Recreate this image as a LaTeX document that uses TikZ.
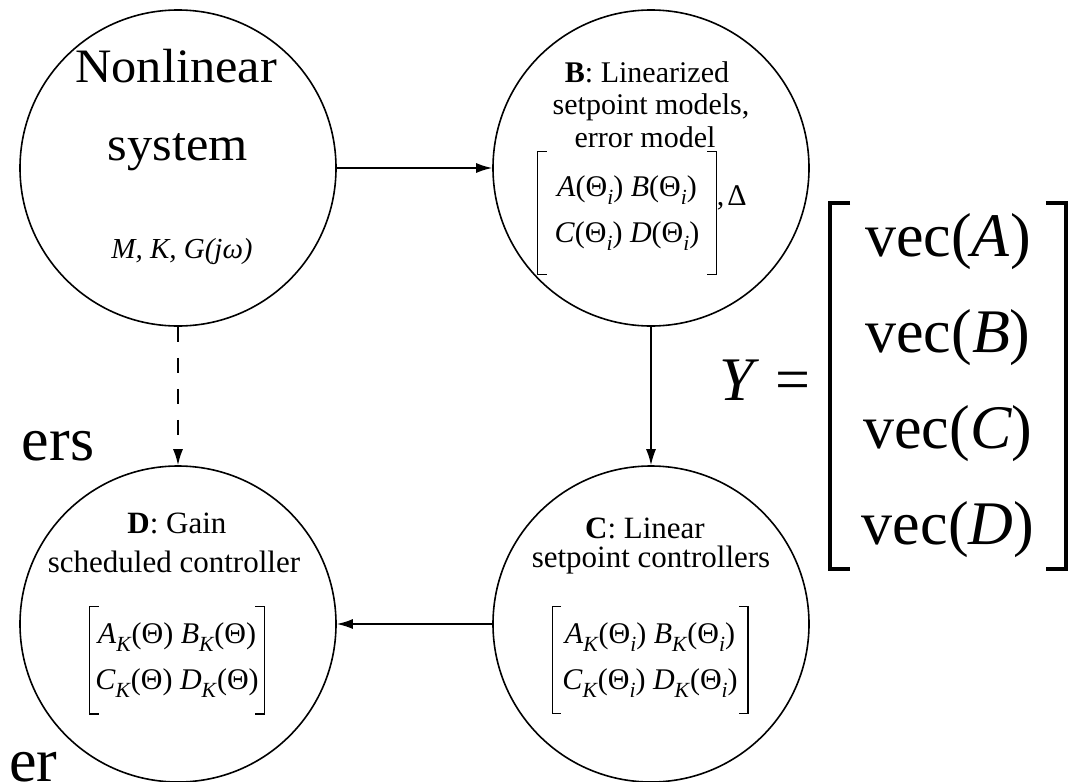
\documentclass[tikz,border=0pt]{standalone}
\usepackage{fontspec}
\setmainfont{Liberation Serif}
\usetikzlibrary{arrows.meta}
\tikzset{>={Latex[length=16pt,width=10pt]}}
\tikzstyle{stage} = [draw, circle, minimum size=316pt, inner sep=0pt]
\tikzstyle{title} = [inner sep=0pt, anchor=base, font=\fontsize{48}{52}\selectfont]
\tikzstyle{head} = [inner sep=0pt, anchor=base, font=\fontsize{30}{33}\selectfont]
\tikzstyle{mat} = [align=center, inner sep=0pt, font=\fontsize{30}{46}\selectfont]
\tikzstyle{big} = [inner sep=0pt, font=\fontsize{62}{96}\selectfont]
\tikzstyle{brk} = [line width=1.4pt]
\newcommand{\low}[1]{\raisebox{-.25em}{\scalebox{.72}{\textit{#1}}}}
\newcommand{\thi}{(Θ\low{i})}
\newcommand{\wide}[1]{\scalebox{1.05}[1]{#1}}
\begin{document}
\begin{tikzpicture}[x=1pt, y=1pt, line width=1.6pt, node distance=473pt]
    \clip (0,0) rectangle (1074,-782);
    % the four circles
    \node [stage] (plant) at (178,-168) {};
    \node [stage, right of=plant] (linmod) {};
    \node [stage, below of=linmod, node distance=456pt] (linctrl) {};
    \node [stage, below of=plant, node distance=456pt] (gainctrl) {};

    % texts inside the circles
    \node [title] (nl1) at (176,-82) {\wide{Nonlinear}};
    \node [title] (nl2) at (178,-160) {\wide{system}};
    \node [head, font=\fontsize{29}{33}\selectfont\itshape] (nlpar) at (182,-258) {M, K, G(jω)};
    \node [head] (lm1) at (647,-82) {\textbf{B}: Linearized};
    \node [head] (lm2) at (651,-114) {setpoint models,};
    \node [head] (lm3) at (645,-147) {error model};
    \node [mat, minimum width=177pt, minimum height=121pt] (linmat) at (627,-213)
        {\textit{A}\thi{} \textit{B}\thi\\ \textit{C}\thi{} \textit{D}\thi};
    \node [head, anchor=base west] (delta) at (716,-205) {,\kern3pt Δ};
    \node [head, font=\fontsize{31}{33}\selectfont] (lc1) at (645,-538) {\textbf{C}: Linear};
    \node [head, font=\fontsize{31}{33}\selectfont] (lc2) at (651,-567) {setpoint controllers};
    \node [mat, minimum width=194pt, minimum height=105pt] (ctrlmat) at (650,-660)
        {\textit{A}\low{K}\thi{} \textit{B}\low{K}\thi\\ \textit{C}\low{K}\thi{} \textit{D}\low{K}\thi};
    \node [head, font=\fontsize{31}{33}\selectfont] (gc1) at (177,-533) {\textbf{D}: Gain};
    \node [head, font=\fontsize{31}{33}\selectfont] (gc2) at (174,-572) {scheduled controller};
    \node [mat, minimum width=173pt, minimum height=106pt] (gainmat) at (177,-660)
        {\textit{A}\low{K}(Θ) \textit{B}\low{K}(Θ)\\ \textit{C}\low{K}(Θ) \textit{D}\low{K}(Θ)};
    \foreach \m in {linmat, ctrlmat, gainmat} {
        \draw [brk] ([xshift=9pt]\m.north west) -| (\m.south west) -- ++(9pt,0);
        \draw [brk] ([xshift=-9pt]\m.north east) -| (\m.south east) -- ++(-9pt,0);
    }

    % the stacked vector on the right
    \node [big, align=center, inner xsep=31pt, inner ysep=10pt] (vecs) at (948,-386)
        {vec(\textit{A})\\vec(\textit{B})\\vec(\textit{C})\\vec(\textit{D})};
    \node [big, anchor=base] (lhs) at (765,-400) {\textit{Y} =};
    \draw [line width=4pt] ([xshift=20pt]vecs.north west) -| (vecs.south west) -- ++(20pt,0);
    \draw [line width=4pt] ([xshift=-20pt]vecs.north east) -| (vecs.south east) -- ++(-20pt,0);
    \node [big, anchor=base east] (frag1) at (95,-460) {ers};
    \node [big, anchor=base east] (frag2) at (58,-781) {er};

    % connections
    \draw [->] (plant) -- (linmod);
    \draw [->] (linmod) -- (linctrl);
    \draw [->] (linctrl) -- (gainctrl);
    \draw [->, dash pattern=on 15pt off 16pt] (plant) -- (gainctrl);
\end{tikzpicture}
\end{document}
